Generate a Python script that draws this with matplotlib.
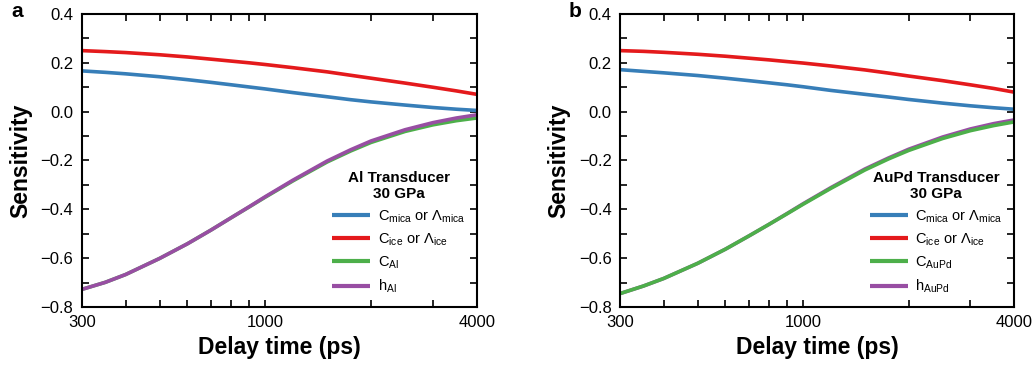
"""
Sensitivity vs delay time for Al and AuPd transducers (30 GPa)
"""

import numpy as np
import matplotlib
matplotlib.use('Agg')
import matplotlib.pyplot as plt
from matplotlib.ticker import FixedLocator, NullFormatter, MultipleLocator

plt.rcParams['font.family'] = ['Liberation Sans', 'DejaVu Sans']
plt.rcParams['mathtext.fontset'] = 'custom'
plt.rcParams['mathtext.rm'] = 'Liberation Sans'

# delay times where the curves were read (ps)
delay = [300, 350, 400, 500, 600, 700, 800, 900, 1000, 1200, 1500, 1750, 2000, 2500, 3000, 3500, 4000]

# panel a: Al transducer
al_mica = [0.167, 0.161, 0.155, 0.143, 0.131, 0.120, 0.110, 0.101, 0.093, 0.078, 0.061, 0.049, 0.040, 0.027, 0.017, 0.010, 0.005]
al_ice = [0.250, 0.246, 0.242, 0.233, 0.224, 0.215, 0.207, 0.200, 0.193, 0.180, 0.163, 0.149, 0.137, 0.117, 0.100, 0.085, 0.071]
al_c = [-0.728, -0.699, -0.667, -0.601, -0.541, -0.485, -0.434, -0.390, -0.350, -0.283, -0.206, -0.161, -0.126, -0.081, -0.054, -0.037, -0.026]
al_h = [-0.728, -0.699, -0.667, -0.601, -0.541, -0.485, -0.434, -0.389, -0.348, -0.280, -0.202, -0.156, -0.120, -0.074, -0.045, -0.026, -0.013]

# panel b: AuPd transducer
aupd_mica = [0.172, 0.165, 0.159, 0.148, 0.137, 0.127, 0.118, 0.110, 0.102, 0.087, 0.071, 0.060, 0.050, 0.035, 0.024, 0.016, 0.010]
aupd_ice = [0.250, 0.247, 0.243, 0.235, 0.227, 0.219, 0.212, 0.205, 0.199, 0.187, 0.171, 0.158, 0.146, 0.127, 0.110, 0.095, 0.080]
aupd_c = [-0.745, -0.714, -0.683, -0.621, -0.563, -0.509, -0.461, -0.418, -0.379, -0.314, -0.239, -0.194, -0.159, -0.110, -0.078, -0.057, -0.042]
aupd_h = [-0.745, -0.714, -0.683, -0.621, -0.563, -0.509, -0.461, -0.417, -0.377, -0.311, -0.235, -0.190, -0.154, -0.104, -0.071, -0.049, -0.034]

major_x = [300, 1000, 4000]
minor_x = [400, 500, 600, 700, 800, 900, 2000, 3000]

colors = {'mica': '#377eb8', 'ice': '#e41a1c', 'c': '#4daf4a', 'h': '#984ea3'}


def style_axis(ax):
    ax.set_xscale('log')
    ax.set_xlim(300, 4000)
    ax.set_ylim(-0.8, 0.4)
    ax.xaxis.set_major_locator(FixedLocator(major_x))
    ax.xaxis.set_minor_locator(FixedLocator(minor_x))
    ax.xaxis.set_major_formatter(plt.FuncFormatter(lambda v, p: f'{int(v)}'))
    ax.xaxis.set_minor_formatter(NullFormatter())
    ax.yaxis.set_major_locator(MultipleLocator(0.2))
    ax.yaxis.set_minor_locator(MultipleLocator(0.1))
    ax.yaxis.set_major_formatter(plt.FuncFormatter(lambda v, p: f'{v:.1f}'.replace('-', '\u2212')))
    ax.tick_params(which='both', direction='in', top=True, right=True,
                   length=5, width=1.2, labelsize=12, pad=6)
    for s in ax.spines.values():
        s.set_linewidth(1.5)
    ax.set_xlabel('Delay time (ps)', fontsize=16.5, fontweight='bold', labelpad=4)
    ax.set_ylabel('Sensitivity', fontsize=16.5, fontweight='bold', labelpad=6)


fig = plt.figure(figsize=(10.36, 3.76), dpi=100)
ax_a = fig.add_axes([0.0789, 0.1835, 0.3813, 0.7793])
ax_b = fig.add_axes([0.5985, 0.1835, 0.3803, 0.7793])

lw = 2.6
kw = dict(lw=lw, solid_joinstyle='round', solid_capstyle='butt')

# panel a (h drawn on top of C)
ax_a.plot(delay, al_mica, color=colors['mica'], label=r'C$_\mathregular{mica}$ or Λ$_\mathregular{mica}$', **kw)
ax_a.plot(delay, al_ice, color=colors['ice'], label=r'C$_\mathregular{ice}$ or Λ$_\mathregular{ice}$', **kw)
ax_a.plot(delay, al_c, color=colors['c'], label=r'C$_\mathregular{Al}$', **kw)
ax_a.plot(delay, al_h, color=colors['h'], label=r'h$_\mathregular{Al}$', **kw)

# panel b (C drawn on top of h)
ax_b.plot(delay, aupd_mica, color=colors['mica'], label=r'C$_\mathregular{mica}$ or Λ$_\mathregular{mica}$', **kw)
ax_b.plot(delay, aupd_ice, color=colors['ice'], label=r'C$_\mathregular{ice}$ or Λ$_\mathregular{ice}$', **kw)
ax_b.plot(delay, aupd_h, color=colors['h'], label=r'h$_\mathregular{AuPd}$', **kw)
ax_b.plot(delay, aupd_c, color=colors['c'], label=r'C$_\mathregular{AuPd}$', **kw)

for ax, title in [(ax_a, 'Al Transducer\n30 GPa'), (ax_b, 'AuPd Transducer\n30 GPa')]:
    style_axis(ax)
    handles, labels = ax.get_legend_handles_labels()
    if ax is ax_b:
        handles = [handles[0], handles[1], handles[3], handles[2]]
        labels = [labels[0], labels[1], labels[3], labels[2]]
    leg = ax.legend(handles, labels, loc='lower right', frameon=False, fontsize=10.5,
                    title=title, title_fontproperties={'weight': 'bold', 'size': 11},
                    handlelength=2.6, handletextpad=0.5, labelspacing=0.45,
                    borderaxespad=0.4)
    leg.get_title().set_multialignment('center')
    for line in leg.get_lines():
        line.set_linewidth(3)

fig.text(0.011, 0.955, 'a', fontsize=15, fontweight='bold')
fig.text(0.549, 0.955, 'b', fontsize=15, fontweight='bold')

fig.savefig('out.png', dpi=100)
